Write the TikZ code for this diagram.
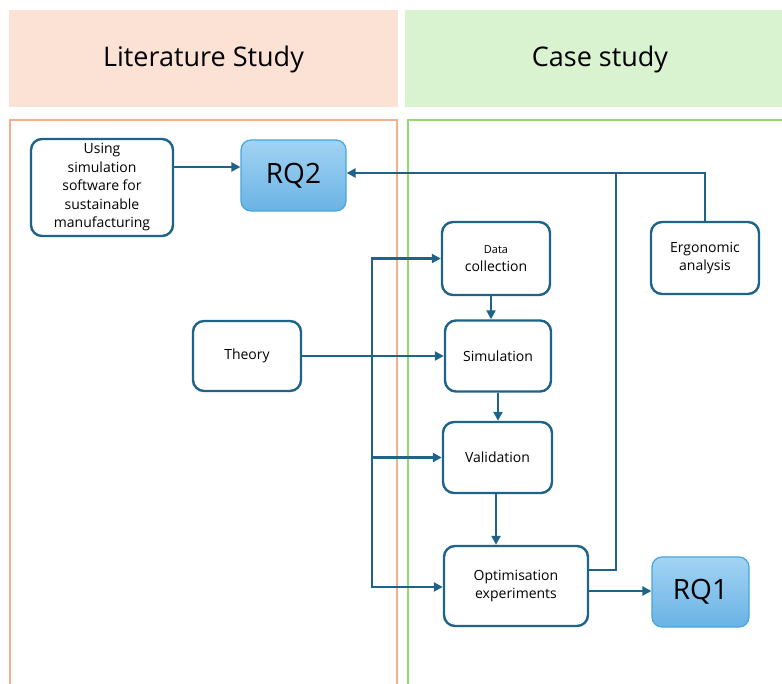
\documentclass[tikz,border=0pt]{standalone}
\usepackage{fontspec}
\setmainfont{Open Sans}
\usetikzlibrary{arrows.meta}
\definecolor{ln}{HTML}{1E6388}
\definecolor{orfill}{HTML}{FBE2D5}
\definecolor{grfill}{HTML}{D9F2D0}
\definecolor{orln}{HTML}{F4B08A}
\definecolor{grln}{HTML}{92DC6E}
\definecolor{rqtop}{HTML}{A2D3F3}
\definecolor{rqbot}{HTML}{6AB3E5}
\definecolor{rqln}{HTML}{45A6DE}
\tikzset{
  box/.style={draw=ln, line width=2.4pt, rounded corners=11pt, fill=white, align=center, inner sep=0pt, font=\fontsize{14}{18.5}\selectfont},
  rq/.style={draw=rqln, line width=1.2pt, rounded corners=10pt, top color=rqtop, bottom color=rqbot, align=center, inner sep=0pt, font=\fontsize{28}{32}\selectfont},
  conn/.style={draw=ln, line width=2.4pt},
  arr/.style={conn, -{Triangle[length=9pt,width=9pt]}},
  head/.style={inner sep=0pt, font=\fontsize{27}{31}\selectfont}
}
\begin{document}
\begin{tikzpicture}[x=1pt,y=-1pt]
\useasboundingbox (0,0) rectangle (782,684);
% headers
\fill[orfill] (9,10) rectangle (398,107);
\fill[grfill] (405,10) rectangle (782,107);
\node[head] (hl) at (203.5,59) {Literature Study};
\node[head] (hc) at (600,59) {Case study};
% frames
\draw[orln, line width=1.8pt] (10,684) -- (10,120) -- (397,120) -- (397,684);
\draw[grln, line width=1.8pt] (408,684) -- (408,120) -- (783,120);
% nodes
\node[box, minimum width=142pt, minimum height=97pt] (using) at (102,187.5) {Using\\simulation\\software for\\sustainable\\manufacturing};
\node[rq, minimum width=105pt, minimum height=71pt] (rq2) at (293.5,175.5) {RQ2};
\node[box, minimum width=108pt, minimum height=73pt] (data) at (496,258.5) {{\fontsize{11}{13}\selectfont Data}\\collection};
\node[box, minimum width=108pt, minimum height=72pt] (ergo) at (705,258) {Ergonomic\\analysis};
\node[box, minimum width=108pt, minimum height=70pt] (theory) at (247,356) {Theory};
\node[box, minimum width=106pt, minimum height=71pt] (sim) at (498,356) {Simulation};
\node[box, minimum width=109pt, minimum height=71pt] (val) at (497.5,457.5) {Validation};
\node[box, minimum width=144pt, minimum height=80pt] (opt) at (516,586) {Optimisation\\experiments};
\node[rq, minimum width=97pt, minimum height=70pt] (rq1) at (700.5,592) {RQ1};
% connectors
\draw[arr] (using.east |- 0,167) -- (rq2.west |- 0,167);
\coordinate (top) at (616,173);
\draw[arr] (ergo.north) |- (rq2.east |- top);
\draw[conn] (opt.east |- 0,570) -| (top);
\draw[arr] (theory.east) -- (sim.west |- theory.east);
\coordinate (jn) at (372,356);
\draw[arr] (jn) |- (data.west);
\draw[arr] (jn) |- (val.west);
\draw[arr] (jn) |- (opt.west |- 0,587);
\draw[arr] (data.south -| 491,0) -- (sim.north -| 491,0);
\draw[arr] (sim.south) -- (val.north -| sim.south);
\draw[arr] (val.south -| 496,0) -- (opt.north -| 496,0);
\draw[arr] (opt.east |- 0,591) -- (rq1.west |- 0,591);
\end{tikzpicture}
\end{document}
